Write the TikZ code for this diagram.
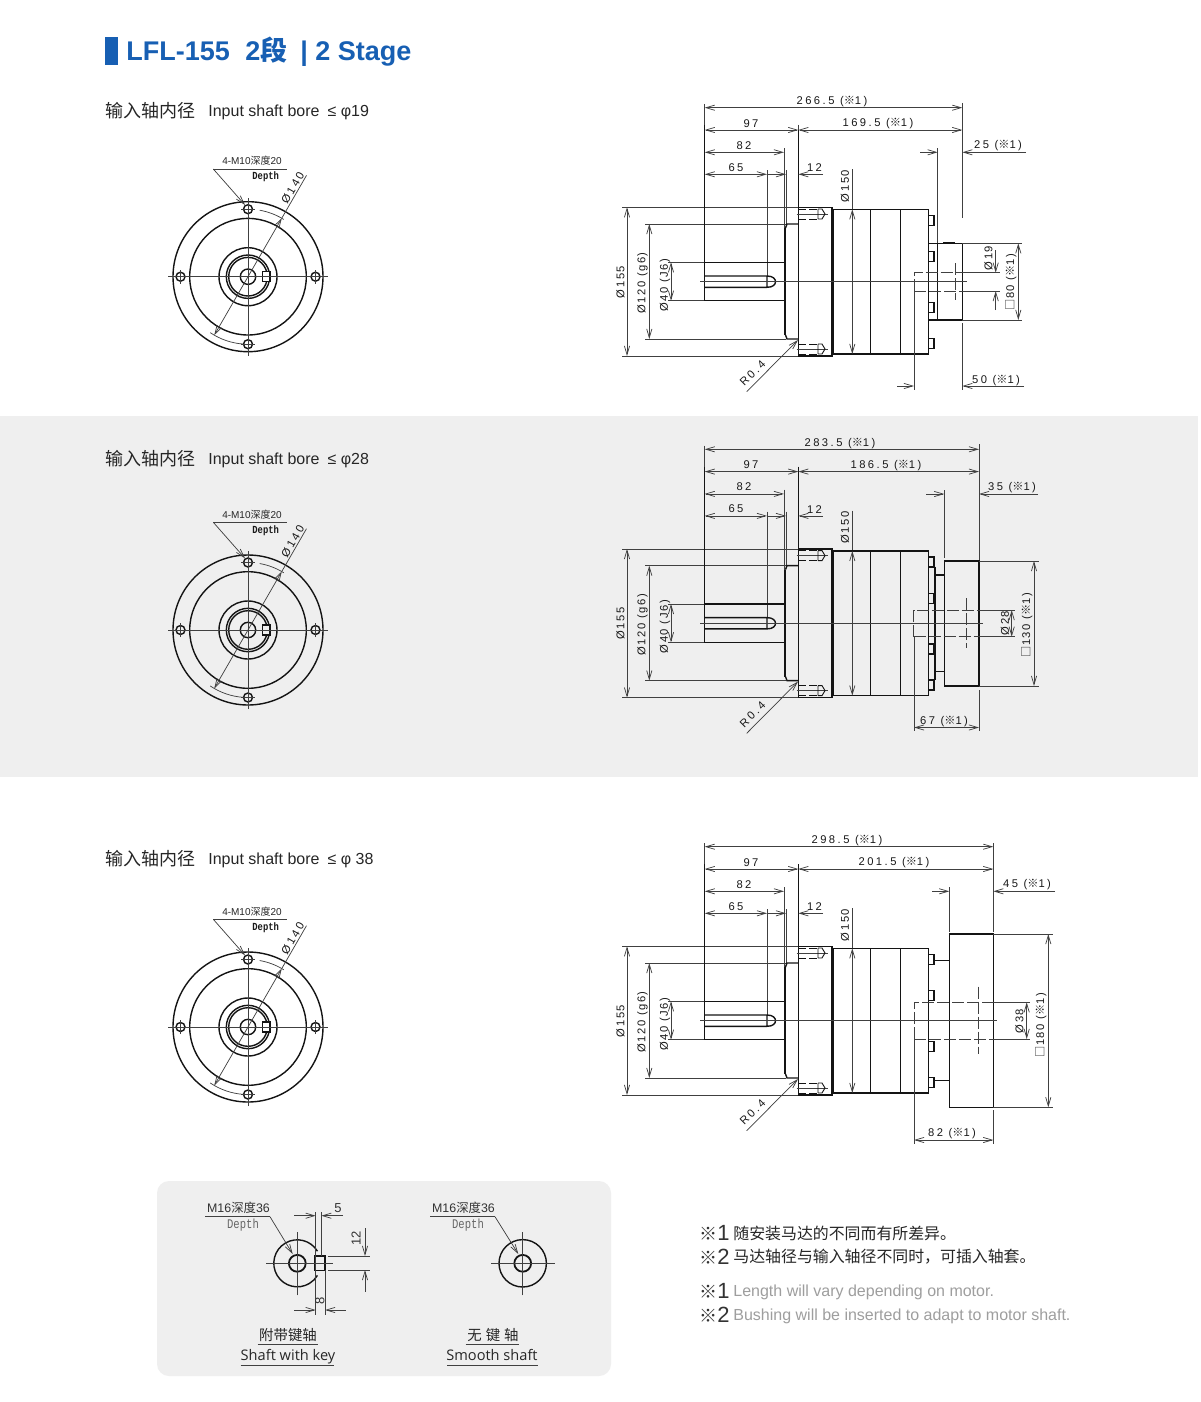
\documentclass[tikz,border=0pt]{standalone}
\usepackage{fontspec}
\usetikzlibrary{arrows.meta}
\setmainfont{Liberation Sans}
\newfontfamily\cjk{Noto Sans CJK SC}
\newfontfamily\cad[LetterSpace=22]{Liberation Sans}
\newfontfamily\cadn[LetterSpace=14]{Liberation Sans}
\newfontfamily\cadm{Liberation Mono}
\newfontfamily\opens{Open Sans}
\definecolor{blu}{HTML}{175FB3}
\definecolor{bgg}{HTML}{EFEFEF}
\newcommand\kk{{\cjk\bfseries ※}}
\newcommand\sq{{\cjk □}}
\tikzset{
 obj/.style={line width=0.7pt,draw=black!92},
 thinl/.style={line width=0.36pt,draw=black!75},
 dimb/.style={thinl,{Straight Barb[length=4.4pt,width=2.6pt]}-{Straight Barb[length=4.4pt,width=2.6pt]}},
 dimr/.style={thinl,-{Straight Barb[length=4.4pt,width=2.6pt]}},
 cadt/.style={inner sep=0pt,text=black!90,font=\cad\fontsize{5.6}{6}\selectfont},
 cadc/.style={inner sep=0pt,text=black!90,font=\cadn\fontsize{5.6}{6}\selectfont},
 hd/.style={inner sep=0pt,anchor=west,font=\fontsize{8}{9}\selectfont,text=black!85},
 hdc/.style={inner sep=0pt,anchor=west,font=\cjk\fontsize{9}{10}\selectfont,text=black!85},
 smalltxt/.style={inner sep=0pt,text=black!85,font=\fontsize{5}{6}\selectfont},
 nar/.style={inner sep=0pt,text=black!90,font=\cadm\bfseries\fontsize{5.4}{6}\selectfont},
 lab/.style={inner sep=0pt,text=black!85,font=\cjk\fontsize{7.2}{8}\selectfont},
 labe/.style={inner sep=0pt,anchor=base,text=black!85,font=\opens\fontsize{7.3}{8}\selectfont},
 nt/.style={inner sep=0pt,anchor=west,text=black!85,font=\cjk\fontsize{7.95}{9}\selectfont},
 nte/.style={inner sep=0pt,anchor=west,text=black!38,font=\fontsize{8}{9}\selectfont},
 notemark/.style={inner sep=0pt,anchor=west,text=black!80,font=\fontsize{11}{12}\selectfont},
 ttl/.style={inner sep=0pt,anchor=base west,text=blu,font=\bfseries\fontsize{13.5}{15}\selectfont},
}
% front view: #1 centre y, #2 fill colour, #3 prefix
\newcommand\frontview[3]{%
\begin{scope}[shift={(248,#1)},yscale=-1]
 \draw[obj] (0,0) circle[radius=75] (0,0) circle[radius=58.3] (0,0) circle[radius=29]
   (0,0) circle[radius=21.7] (0,0) circle[radius=19.3] (0,0) circle[radius=7.7];
 \draw[obj,fill=#2] (14.7,-5) rectangle (22,5);
 \foreach \a in {0,90,180,270}{\draw[obj] (\a:67.5) circle[radius=4.5];}
 \draw[thinl] (-80,0)--(80,0) (0,-79)--(0,79) (-7,67.5)--(7,67.5) (-7,-67.5)--(7,-67.5) (67.5,-7)--(67.5,7) (-67.5,-7)--(-67.5,7);
 \draw[dimb] (240:67.5)--(60:67.5);
 \draw[thinl] (60:67.5)--(60:117);
 \draw[thinl] (58:67.5) arc[start angle=58,end angle=80,radius=67.5];
 \draw[thinl] (236:67.5) arc[start angle=236,end angle=266,radius=67.5];
 \draw[thinl] (38.7,107.7)--(-34.7,107.7);
 \draw[dimr] (-34.7,107.7)--(-3,71.7);
 \node[cadt,rotate=60] (#3-d140) at (44.7,88.7) {Ø140};
 \node[smalltxt] (#3-m10) at (4,115.7) {4-M10{\cjk 深度}20};
 \node[nar] (#3-dep) at (17.7,99.7) {\scalebox{.82}[1]{Depth}};
\end{scope}}
% side view: common parts. #1 y offset, #2 prefix
\newcommand\sideview[2]{%
\begin{scope}[shift={(0,#1)}]
 % extension lines
 \draw[thinl] (622,207.3)--(798.3,207.3) (622,356)--(798.3,356) (645,224)--(786,224) (645,339)--(786,339)
   (668,262.3)--(704.7,262.3) (668,300.7)--(704.7,300.7)
   (784,148)--(784,262.3) (786.3,170)--(786.3,224) (767,170)--(767,276) (852.3,169)--(852.3,209.3);
 \draw[obj,line width=0.45pt] (704.7,125)--(704.7,262.3) (798.3,125)--(798.3,207.3);
 % body
 \draw[obj] (704.7,262.3) rectangle (785,300.7);
 \draw[obj] (704.7,276)--(767,276) .. controls (773,276) and (775.5,279) .. (775.5,281.7) .. controls (775.5,284.5) and (773,287.3) .. (767,287.3)--(704.7,287.3) (767,276)--(767,287.3);
 \draw[obj,line width=1.1pt] (785,228)--(785,335);
 \draw[obj] (785.5,228)--(787,224)--(798.3,224) (785.5,335)--(787,339)--(798.3,339);
 \draw[obj] (798.3,207.3) rectangle (832,356);
 \draw[obj] (833.7,209.3) rectangle (928.3,354);
 \draw[obj] (870.3,209.3)--(870.3,354) (900.3,209.3)--(900.3,354);
 \foreach \y in {215.3,251.7,302.3,338.3}{\draw[obj] (928.3,\y) rectangle (934,\y+10);}
 % counterbored holes
 \foreach \y in {214,349}{
  \draw[thinl] (796.7,\y)--(828,\y);
  \draw[obj,line width=0.45pt,dash pattern=on 4pt off 1.5pt] (798.3,\y-5)--(818,\y-5) (798.3,\y+5)--(818,\y+5);
  \draw[obj,line width=0.45pt] (818,\y-5)--(818,\y+5) (818,\y-5)--(822,\y-5)--(825,\y)--(822,\y+5)--(818,\y+5);
 }
 % dimensions
 \draw[dimb] (704.7,130)--(798.3,130);
 \draw[dimb] (704.7,152.3)--(784,152.3);
 \draw[dimb] (704.7,174.3)--(767,174.3);
 \draw[dimr] (767,174.3)--(786,174.3);
 \draw[dimr] (823,174.3)--(798.3,174.3);
 \draw[dimb] (852.3,209.3)--(852.3,354);
 \draw[dimb] (627,207.3)--(627,356);
 \draw[dimb] (649.3,224)--(649.3,339);
 \draw[dimb] (671,262.3)--(671,300.7);
 \draw[dimr] (746.7,391.7)--(798,340);
 \node[cadt] (#2-97) at (751,123.5) {97};
 \node[cadt] (#2-82) at (744,145.5) {82};
 \node[cadt] (#2-65) at (736,167.5) {65};
 \node[cadt] (#2-12) at (814.5,168) {12};
 \node[cadc,rotate=90] (#2-150) at (845,186) {Ø150};
 \node[cadc,rotate=90] (#2-155) at (620.5,282) {Ø155};
 \node[cadc,rotate=90] (#2-120) at (642.5,283) {Ø120 (g6)};
 \node[cadc,rotate=90] (#2-40) at (665,285) {Ø40 (J6)};
 \node[cadt,rotate=45] (#2-r) at (752.5,373) {R0.4};
\end{scope}}
\begin{document}
\begin{tikzpicture}[x=0.5pt,y=-0.5pt]
\useasboundingbox (0,0) rectangle (1200,1402);
\fill[white] (0,0) rectangle (1200,1402);
\fill[bgg] (0,416) rectangle (1198,777);
\fill[bgg,rounded corners=6pt] (157,1181) rectangle (611,1376);

% title
\fill[blu] (105,37) rectangle (118,65);
\node[ttl] (t1) at (126,60.5) {LFL-155};
\node[ttl] (t2) at (245,60.5) {2{\cjk\bfseries 段}};
\node[ttl] (t3) at (300,60.5) {| 2 Stage};

% headings
\node[hdc] (h1a) at (105,111) {输入轴内径};
\node[hd] (h1b) at (208,112) {Input shaft bore\hspace{4pt}≤ φ19};
\node[hdc] (h2a) at (105,459) {输入轴内径};
\node[hd] (h2b) at (208,460) {Input shaft bore\hspace{4pt}≤ φ28};
\node[hdc] (h3a) at (105,859) {输入轴内径};
\node[hd] (h3b) at (208,860) {Input shaft bore\hspace{4pt}≤ φ 38};

\frontview{276.7}{white}{f1}
\frontview{630}{bgg}{f2}
\frontview{1027}{white}{f3}

\sideview{0}{s1}
\sideview{341.6}{s2}
\sideview{739}{s3}

% ---------- row 1 motor
\draw[obj] (928.3,243.3) rectangle (937.7,320);
\draw[obj] (937.7,243.3) rectangle (962.3,320);
\draw[obj,line width=1pt] (943,243.2)--(955,243.2);
\draw[thinl] (700,281.7)--(967,281.7);
\draw[thinl,dash pattern=on 6pt off 1.5pt] (914,291)--(914,272.7)--(962.3,272.7) (914,291)--(962.3,291) (955.7,263)--(955.7,300);
\draw[thinl] (704.7,104)--(704.7,125) (798.3,125)--(798.3,130) (962.3,103)--(962.3,218) (937.7,148)--(937.7,243.3)
  (962.3,272.7)--(1000,272.7) (962.3,291)--(1000,291) (962.3,243.3)--(1022,243.3) (962.3,320)--(1022,320)
  (914,291)--(914,390) (962.3,323)--(962.3,390);
\draw[dimb] (704.7,107.7)--(962.3,107.7);
\draw[dimb] (798.3,130)--(962.3,130);
\draw[dimr] (920,152.3)--(937.7,152.3);
\draw[dimr] (1026,152.3)--(962.3,152.3);
\draw[dimr] (995.7,250)--(995.7,272.7);
\draw[dimr] (995.7,310)--(995.7,291);
\draw[dimb] (1018.3,243.3)--(1018.3,320);
\draw[dimr] (897,386)--(914,386);
\draw[dimr] (1024,386)--(962.3,386);
\node[cadt] (a1) at (832,102) {266.5 (\kk 1)};
\node[cadt] (a2) at (878,123.5) {169.5 (\kk 1)};
\node[cadt] (a3) at (998,145.5) {25 (\kk 1)};
\node[cadc,rotate=90] (a4) at (988.5,258) {Ø19};
\node[cadc,rotate=90] (a5) at (1011,282) {\sq 80 (\kk 1)};
\node[cadt] (a6) at (996,380.5) {50 (\kk 1)};

% ---------- row 2 motor
\draw[obj] (935,566.7)--(935,680) (935,575)--(944.3,575) (935,671.7)--(944.3,671.7);
\draw[obj] (944.3,561) rectangle (979,686);
\draw[obj,line width=1pt] (950,560.8)--(968,560.8);
\draw[thinl] (700,623.3)--(983,623.3);
\draw[thinl,dash pattern=on 6pt off 1.5pt] (913.5,636.7)--(913.5,610)--(979,610) (913.5,636.7)--(979,636.7) (966.7,598)--(966.7,648);
\draw[thinl] (704.7,445.6)--(704.7,467) (979,444)--(979,560) (944.3,490)--(944.3,558)
  (979,610)--(1015,610) (979,636.7)--(1015,636.7) (979,561)--(1039,561) (979,686)--(1039,686)
  (914,637)--(914,731) (979,690)--(979,731);
\draw[dimb] (704.7,449.3)--(979,449.3);
\draw[dimb] (798.3,471.6)--(979,471.6);
\draw[dimr] (926,494)--(944.3,494);
\draw[dimr] (1038,494)--(979,494);
\draw[dimb] (1011.7,610)--(1011.7,636.7);
\draw[dimb] (1034,561)--(1034,686);
\draw[dimb] (914,727.5)--(979,727.5);
\node[cadt] (b1) at (840,443.5) {283.5 (\kk 1)};
\node[cadt] (b2) at (886,465.5) {186.5 (\kk 1)};
\node[cadt] (b3) at (1012,487.5) {35 (\kk 1)};
\node[cadc,rotate=90] (b4) at (1005,623) {Ø28};
\node[cadc,rotate=90] (b5) at (1027,625) {\sq 130 (\kk 1)};
\node[cadt] (b6) at (944,721.5) {67 (\kk 1)};

% ---------- row 3 motor
\draw[obj] (934,960.7)--(949.3,960.7) (934,1080.7)--(949.3,1080.7);
\draw[obj] (949.3,934) rectangle (993.3,1107.3);
\draw[obj,line width=1pt] (958,933.8)--(980,933.8);
\draw[thinl] (700,1020.7)--(997,1020.7);
\draw[thinl,dash pattern=on 6pt off 1.5pt] (914,1039)--(914,1002.3)--(993.3,1002.3) (914,1039)--(993.3,1039) (978.3,986.7)--(978.3,1054);
\draw[thinl] (704.7,843)--(704.7,864) (993.3,843)--(993.3,932) (949.3,887)--(949.3,932)
  (993.3,1002.3)--(1030,1002.3) (993.3,1039)--(1030,1039) (993.3,934)--(1053,934) (993.3,1107.3)--(1053,1107.3)
  (914,1039)--(914,1144) (993.3,1110)--(993.3,1144);
\draw[dimb] (704.7,846.7)--(993.3,846.7);
\draw[dimb] (798.3,869)--(993.3,869);
\draw[dimr] (932,891.3)--(949.3,891.3);
\draw[dimr] (1055,891.3)--(993.3,891.3);
\draw[dimb] (1026.7,1002.3)--(1026.7,1039);
\draw[dimb] (1048.3,934)--(1048.3,1107.3);
\draw[dimb] (914,1140)--(993.3,1140);
\node[cadt] (c1) at (847,840.5) {298.5 (\kk 1)};
\node[cadt] (c2) at (894,862.5) {201.5 (\kk 1)};
\node[cadt] (c3) at (1027,884.5) {45 (\kk 1)};
\node[cadc,rotate=90] (c4) at (1019.5,1021) {Ø38};
\node[cadc,rotate=90] (c5) at (1041,1025) {\sq 180 (\kk 1)};
\node[cadt] (c6) at (952,1133.5) {82 (\kk 1)};

% ---------- shaft options
\begin{scope}[shift={(297.3,1263.3)},yscale=-1]
 \draw[obj] (31:23.5) arc[start angle=31,end angle=329,radius=23.5];
 \draw[obj,line width=0.9pt] (0,0) circle[radius=8.4];
 \draw[obj] (17.7,-7.3) rectangle (27.7,7.3);
 \draw[thinl] (-31,0)--(36,0) (0,-32)--(0,31);
\end{scope}
\draw[thinl] (205,1216.7)--(270,1216.7);
\draw[dimr] (270,1216.7)--(292.7,1254);
\draw[thinl] (315.7,1212)--(315.7,1315) (321.3,1212)--(321.3,1256) (325,1270)--(325,1315) (328,1256)--(370,1256) (328,1270)--(370,1270);
\draw[dimr] (294,1215.7)--(315.7,1215.7);
\draw[dimr] (343,1215.7)--(321.3,1215.7);
\draw[dimr] (365,1228)--(365,1256);
\draw[dimr] (365,1291.7)--(365,1270);
\draw[dimr] (294,1310)--(315.7,1310);
\draw[dimr] (345.7,1310)--(325,1310);
\node[inner sep=0pt,text=black!80,font=\fontsize{6.2}{7}\selectfont] (k1) at (238.5,1208) {M16{\cjk 深度}36};
\node[nar,text=black!60,font=\cadm\fontsize{6.6}{7}\selectfont] (k2) at (243,1225.5) {\scalebox{.8}[1]{Depth}};
\node[inner sep=0pt,text=black!80,font=\fontsize{6.5}{7}\selectfont] (k3) at (338,1208) {5};
\node[inner sep=0pt,text=black!80,rotate=90,font=\fontsize{6.5}{7}\selectfont] (k4) at (356,1238) {12};
\node[inner sep=0pt,text=black!80,rotate=90,font=\fontsize{6.5}{7}\selectfont] (k5) at (320,1301) {8};
\node[lab] (k6) at (288,1335) {附带键轴};
\draw[thinl,line width=0.4pt] (257.7,1344.7)--(317.7,1344.7);
\node[labe] (k7) at (288,1360) {Shaft with key};
\draw[thinl,line width=0.4pt] (240.7,1365)--(334,1365);

\begin{scope}[shift={(522.7,1263.3)},yscale=-1]
 \draw[obj] (0,0) circle[radius=23.7];
 \draw[obj,line width=0.9pt] (0,0) circle[radius=8.4];
 \draw[thinl] (-31.4,0)--(32,0) (0,-32)--(0,31);
\end{scope}
\draw[thinl] (430.3,1216.7)--(495,1216.7);
\draw[dimr] (495,1216.7)--(518.3,1254);
\node[inner sep=0pt,text=black!80,font=\fontsize{6.2}{7}\selectfont] (m1) at (463.5,1208) {M16{\cjk 深度}36};
\node[nar,text=black!60,font=\cadm\fontsize{6.6}{7}\selectfont] (m2) at (468,1225.5) {\scalebox{.8}[1]{Depth}};
\node[lab] (m3) at (493,1335) {无\hspace{2pt}键\hspace{2pt}轴};
\draw[thinl,line width=0.4pt] (465.7,1344.7)--(519.3,1344.7);
\node[labe] (m4) at (492,1360) {Smooth shaft};
\draw[thinl,line width=0.4pt] (447,1365)--(537.7,1365);

% ---------- notes
\node[notemark] (n1) at (699,1233) {{\cjk\fontsize{9}{9}\selectfont ※}1};
\node[notemark] (n2) at (699,1257) {{\cjk\fontsize{9}{9}\selectfont ※}2};
\node[nt] (n3) at (733,1233) {随安装马达的不同而有所差异。};
\node[nt] (n4) at (733,1257) {马达轴径与输入轴径不同时，可插入轴套。};
\node[notemark] (n5) at (699,1291) {{\cjk\fontsize{9}{9}\selectfont ※}1};
\node[notemark] (n6) at (699,1315) {{\cjk\fontsize{9}{9}\selectfont ※}2};
\node[nte] (n7) at (733,1292) {Length will vary depending on motor.};
\node[nte] (n8) at (733,1316) {Bushing will be inserted to adapt to motor shaft.};
\end{tikzpicture}
\end{document}
